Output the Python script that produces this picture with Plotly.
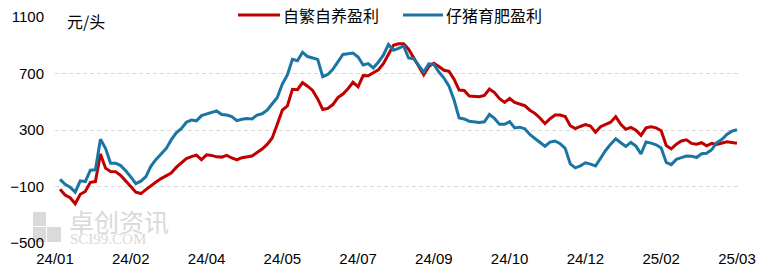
import plotly.graph_objects as go

tick_labels = ["24/01", "24/02", "24/04", "24/05", "24/07", "24/09", "24/10", "24/12", "25/02", "25/03"]
points_per_label = 15

self_bred = [
    -120, -160, -180, -222, -155, -135, -70, -65, 130, 30,
    6, 5, -22, -58, -100, -140, -150, -122, -92, -68,
    -44, -25, -4, 35, 68, 98, 112, 122, 90, 124,
    120, 110, 108, 120, 102, 88, 104, 112, 116, 140,
    165, 198, 243, 340, 440, 470, 588, 585, 635, 610,
    580, 520, 445, 453, 480, 530, 555, 592, 638, 606,
    685, 684, 704, 726, 770, 830, 900, 910, 910, 872,
    812, 760, 690, 750, 772, 750, 723, 715, 660, 583,
    580, 540, 535, 535, 545, 590, 565, 522, 495, 523,
    495, 483, 472, 440, 418, 385, 345, 380, 406, 406,
    395, 330, 310, 325, 338, 328, 285, 323, 337, 355,
    394, 340, 305, 318, 298, 262, 315, 323, 315, 295,
    190, 166, 200, 222, 230, 205, 200, 210, 188, 205,
    197, 206, 216, 212, 206,
]

piglet_fattening = [
    -50, -85, -105, -140, -60, -65, 15, 18, 235, 170,
    65, 65, 48, 12, -32, -80, -62, -30, 45, 92,
    130, 168, 230, 280, 310, 355, 370, 365, 402, 414,
    425, 435, 410, 406, 395, 366, 376, 382, 378, 405,
    415, 440, 486, 530, 625, 690, 800, 790, 850, 820,
    810, 800, 678, 693, 730, 785, 835, 840, 845, 817,
    760, 770, 740, 780, 830, 905, 865, 878, 895, 810,
    805, 758, 710, 768, 765, 710, 668, 610, 512, 385,
    378, 362, 357, 354, 358, 410, 382, 340, 340, 359,
    315, 320, 308, 268, 240, 210, 185, 214, 222, 203,
    170, 60, 32, 46, 68, 58, 45, 100, 155, 200,
    238, 210, 184, 212, 186, 130, 215, 207, 195, 172,
    70, 55, 92, 104, 116, 115, 105, 132, 135, 160,
    210, 232, 268, 292, 302,
]

series_names = ["自繁自养盈利", "仔猪育肥盈利"]
series_colors = ["#C00000", "#1B75A3"]

x_idx = list(range(1, len(self_bred) + 1))
tick_vals = [i * points_per_label for i in range(len(tick_labels))]

FONT = "Liberation Sans, Noto Sans CJK SC, sans-serif"
W, H = 764, 272
ML, MR, MT, MB = 55, 23, 17, 29
PW, PH = W - ML - MR, H - MT - MB


def px_x(p):
    return (p - ML) / PW


def px_y(p):
    return (H - MB - p) / PH


fig = go.Figure()

# watermark (drawn first, below everything)
for (x0, y0, x1, y1) in [(33, 212, 46, 226), (47, 227, 61, 242), (33, 227, 46, 242)]:
    fig.add_shape(type="rect", xref="paper", yref="paper",
                  x0=px_x(x0), x1=px_x(x1), y0=px_y(y1), y1=px_y(y0),
                  fillcolor="#DADADA", line=dict(width=0), layer="below")
fig.add_annotation(text="卓创资讯", xref="paper", yref="paper", x=px_x(67), y=px_y(221),
                   xanchor="left", yanchor="middle", showarrow=False,
                   font=dict(size=25, family="Noto Sans CJK SC", color="#D9D9D9"))
fig.add_annotation(text="SCI99.COM", xref="paper", yref="paper", x=px_x(68), y=px_y(239),
                   xanchor="left", yanchor="middle", showarrow=False,
                   font=dict(size=15, family="Liberation Serif", color="#D9D9D9"))

for name, vals, col in zip(series_names, [self_bred, piglet_fattening], series_colors):
    fig.add_trace(go.Scatter(x=x_idx, y=vals, mode="lines", name=name,
                             line=dict(color=col, width=3), showlegend=False))

fig.update_layout(
    width=W, height=H,
    margin=dict(l=ML, r=MR, t=MT, b=MB, autoexpand=False),
    paper_bgcolor="white", plot_bgcolor="white",
    font=dict(family=FONT, size=15, color="#000000"),
    showlegend=False,
    xaxis=dict(range=[0, 135.8], tickmode="array", tickvals=tick_vals, ticktext=tick_labels,
               showgrid=False, zeroline=False, showline=False, ticks="",
               tickfont=dict(size=15), automargin=False, ticklabelstandoff=5),
    yaxis=dict(range=[-500, 1100], tickmode="array", tickvals=[-500, -100, 300, 700, 1100],
               showgrid=True, gridcolor="#D9D9D9", griddash="4px,3px", gridwidth=1,
               zeroline=False, showline=False, ticks="", tickfont=dict(size=15),
               automargin=False, ticklabelstandoff=10),
)

# legend drawn manually (line sample + label)
legend_pos = [(238, 280), (403, 443)]
for (x0, x1), name, col in zip(legend_pos, series_names, series_colors):
    fig.add_shape(type="line", xref="paper", yref="paper",
                  x0=px_x(x0), x1=px_x(x1), y0=px_y(15), y1=px_y(15),
                  line=dict(color=col, width=3))
    fig.add_annotation(text=name, xref="paper", yref="paper", x=px_x(x1 + 1), y=px_y(15),
                       xanchor="left", yanchor="middle", showarrow=False,
                       font=dict(size=16, family="Noto Sans CJK SC", color="#000000"))

fig.add_annotation(text="元/头", xref="paper", yref="paper", x=px_x(65), y=px_y(21),
                   xanchor="left", yanchor="middle", showarrow=False,
                   font=dict(size=16, family="Noto Sans CJK SC", color="#000000"))

fig.write_html("out.html")
